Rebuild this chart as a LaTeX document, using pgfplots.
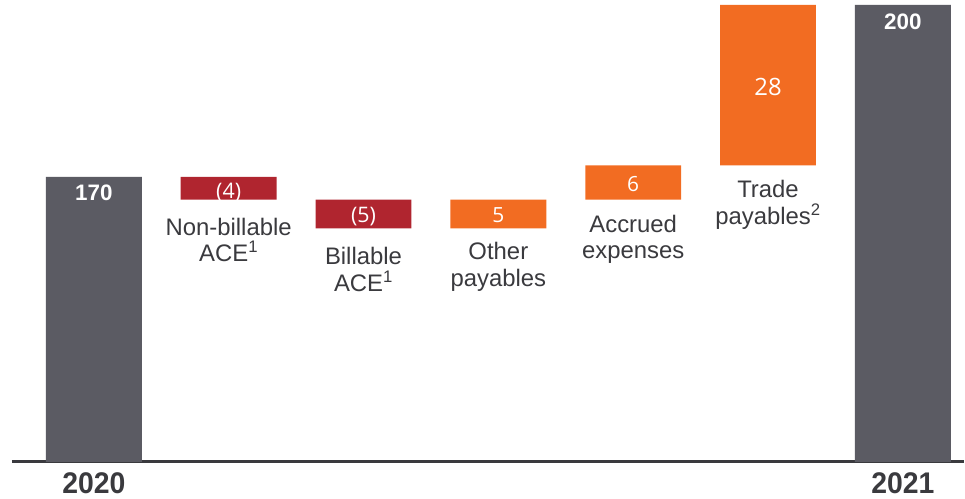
\documentclass[border=0pt]{standalone}
\usepackage{pgfplots}
\pgfplotsset{compat=1.18}
\usepackage{graphicx}
\usepackage{fontspec}
\setmainfont{Liberation Sans}
\newfontfamily\opensans{Open Sans}
\definecolor{wgray}{RGB}{91,91,99}
\definecolor{wred}{RGB}{176,37,47}
\definecolor{worange}{RGB}{242,108,34}
\definecolor{wtext}{RGB}{58,58,62}
\begin{document}
\begin{tikzpicture}
\begin{axis}[name=ax, scale only axis, width=953bp, height=462bp,
  xmin=-0.607, xmax=6.452, ymin=120.29, ymax=200.87,
  ybar stacked, bar width=0.711,
  axis y line=none, axis x line=bottom,
  x axis line style={-, line width=2.4bp, draw=wtext},
  xtick={0,6}, xticklabels={2020,2021}, major tick length=0,
  xticklabel style={font=\bfseries\fontsize{30}{30}\selectfont, text=wtext, yshift=-8bp, xscale=0.95},
  clip mode=individual,
  ]
\addplot[draw=none, fill=none] coordinates {(0,0) (1,166) (2,161) (3,161) (4,166) (5,172) (6,0)};
\addplot[draw=none, fill=wgray] coordinates {(0,170) (1,0) (2,0) (3,0) (4,0) (5,0) (6,200)};
\addplot[draw=none, fill=wred] coordinates {(0,0) (1,4) (2,5) (3,0) (4,0) (5,0) (6,0)};
\addplot[draw=none, fill=worange] coordinates {(0,0) (1,0) (2,0) (3,5) (4,6) (5,28) (6,0)};
\coordinate (v0) at (axis cs:0,170);
\coordinate (v6) at (axis cs:6,200);
\coordinate (v1) at (axis cs:1,168);
\coordinate (v2) at (axis cs:2,163.5);
\coordinate (v3) at (axis cs:3,163.5);
\coordinate (v4) at (axis cs:4,169);
\coordinate (v5) at (axis cs:5,186);
% category labels
\tikzset{cat/.style={anchor=north, inner sep=0pt, align=center, text=wtext, font=\fontsize{24}{26.5}\selectfont}}
\node[cat, yshift=-18bp] at (axis cs:1,166) {Non-billable\\ACE\textsuperscript{1}};
\node[cat, yshift=-19bp] at (axis cs:2,161) {Billable\\ACE\textsuperscript{1}};
\node[cat, yshift=-14bp] at (axis cs:3,161) {Other\\payables};
\node[cat, yshift=-15bp] at (axis cs:4,166) {Accrued\\expenses};
\node[cat, yshift=-15bp] at (axis cs:5,172) {Trade\\payables\textsuperscript{2}};
\end{axis}
% value labels on top of the bars
\node[text=white, font=\bfseries\fontsize{22.5}{22.5}\selectfont, yshift=-16.5bp] at (v0) {170};
\node[text=white, font=\bfseries\fontsize{22.5}{22.5}\selectfont, yshift=-17bp] at (v6) {200};
\node[text=white, font=\opensans\fontsize{21.5}{21.5}\selectfont, yshift=-4bp] at (v1) {(4)};
\node[text=white, font=\opensans\fontsize{21.5}{21.5}\selectfont, yshift=-2.5bp] at (v2) {(5)};
\node[text=white, font=\opensans\fontsize{21}{21}\selectfont, yshift=-1bp] at (v3) {5};
\node[text=white, font=\opensans\fontsize{21}{21}\selectfont, yshift=-1.5bp] at (v4) {6};
\node[text=white, font=\opensans\fontsize{24}{24}\selectfont, yshift=-2bp] at (v5) {28};
\path ([shift={(-12bp,-37bp)}]ax.south west) rectangle (ax.north east);
\end{tikzpicture}
\end{document}
